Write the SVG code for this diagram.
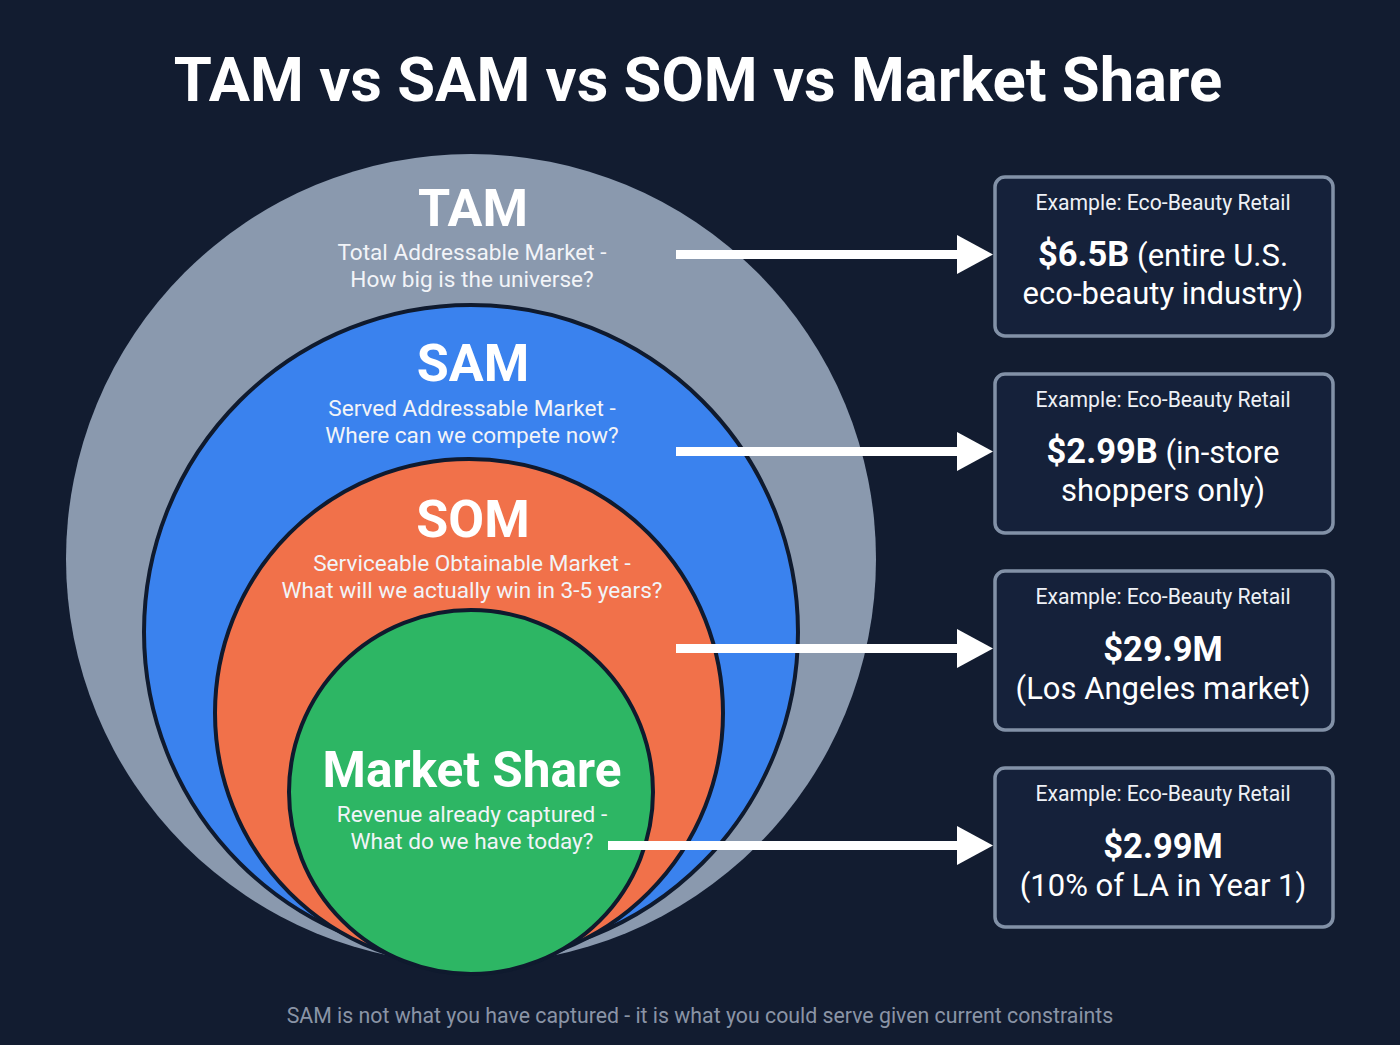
<svg xmlns="http://www.w3.org/2000/svg" width="1400" height="1045" viewBox="0 0 1400 1045">
<defs>
<style>
.title{font-family:Roboto,"Liberation Sans",sans-serif;font-weight:700;font-size:61.5px;fill:#ffffff;text-anchor:middle}
.h{font-family:Roboto,"Liberation Sans",sans-serif;font-weight:700;fill:#ffffff;text-anchor:middle}
.sub{font-family:Roboto,"Liberation Sans",sans-serif;font-size:22.6px;fill:#f2f4f8;text-anchor:middle}
.box{fill:#15213a;stroke:#8291a7;stroke-width:3.5}
.ex{font-family:Roboto,"Liberation Sans",sans-serif;font-size:21.2px;fill:#eef1f6;text-anchor:middle}
.val{font-family:Roboto,"Liberation Sans",sans-serif;font-size:31px;fill:#ffffff;text-anchor:middle}
.b{font-weight:700;font-size:34.5px}
.ring{stroke:#0f1a2e;stroke-width:4}
.foot{font-family:Roboto,"Liberation Sans",sans-serif;font-size:21.3px;fill:#8a94a6;text-anchor:middle}
.arr{fill:#ffffff}
</style>
</defs>
<rect width="1400" height="1045" fill="#121c30"/>
<text class="title" x="698" y="101">TAM vs SAM vs SOM vs Market Share</text>

<g id="tam">
<circle cx="471" cy="559" r="405" fill="#8a99ae"/>
<text class="h" x="473" y="226" font-size="52">TAM</text>
<text class="sub" x="472" y="260">Total Addressable Market -</text>
<text class="sub" x="472" y="287">How big is the universe?</text>
</g>
<g id="sam">
<circle class="ring" cx="471" cy="632" r="327" fill="#3a82ee"/>
<text class="h" x="473" y="381" font-size="52">SAM</text>
<text class="sub" x="472" y="416">Served Addressable Market -</text>
<text class="sub" x="472" y="443">Where can we compete now?</text>
</g>
<g id="som">
<circle class="ring" cx="469" cy="713" r="254" fill="#f1714a"/>
<text class="h" x="473" y="537" font-size="52">SOM</text>
<text class="sub" x="472" y="571">Serviceable Obtainable Market -</text>
<text class="sub" x="472" y="598">What will we actually win in 3-5 years?</text>
</g>
<g id="share">
<circle class="ring" cx="471" cy="792" r="182" fill="#2db664"/>
<text class="h" x="472" y="787" font-size="49.5">Market Share</text>
<text class="sub" x="472" y="822">Revenue already captured -</text>
<text class="sub" x="472" y="849">What do we have today?</text>
</g>

<g id="connectors">
<rect class="arr" x="676" y="250" width="284" height="9"/>
<polygon class="arr" points="957,235 993,254.5 957,274"/>
<rect class="arr" x="676" y="447" width="284" height="9"/>
<polygon class="arr" points="957,432 993,451.5 957,471"/>
<rect class="arr" x="676" y="644" width="284" height="9"/>
<polygon class="arr" points="957,629 993,648.5 957,668"/>
<rect class="arr" x="608" y="841" width="352" height="9"/>
<polygon class="arr" points="957,826 993,845.5 957,865"/>
</g>

<g id="box-tam">
<rect class="box" x="995" y="177" width="338" height="159" rx="10"/>
<text class="ex" x="1163" y="210">Example: Eco-Beauty Retail</text>
<text class="val" x="1163" y="266"><tspan class="b">$6.5B</tspan> (entire U.S.</text>
<text class="val" x="1163" y="304">eco-beauty industry)</text>
</g>
<g id="box-sam">
<rect class="box" x="995" y="374" width="338" height="159" rx="10"/>
<text class="ex" x="1163" y="407">Example: Eco-Beauty Retail</text>
<text class="val" x="1163" y="463"><tspan class="b">$2.99B</tspan> (in-store</text>
<text class="val" x="1163" y="501">shoppers only)</text>
</g>
<g id="box-som">
<rect class="box" x="995" y="571" width="338" height="159" rx="10"/>
<text class="ex" x="1163" y="604">Example: Eco-Beauty Retail</text>
<text class="val b" x="1163" y="661">$29.9M</text>
<text class="val" x="1163" y="699">(Los Angeles market)</text>
</g>
<g id="box-share">
<rect class="box" x="995" y="768" width="338" height="159" rx="10"/>
<text class="ex" x="1163" y="801">Example: Eco-Beauty Retail</text>
<text class="val b" x="1163" y="858">$2.99M</text>
<text class="val" x="1163" y="896">(10% of LA in Year 1)</text>
</g>

<text class="foot" x="700" y="1023">SAM is not what you have captured - it is what you could serve given current constraints</text>
</svg>
